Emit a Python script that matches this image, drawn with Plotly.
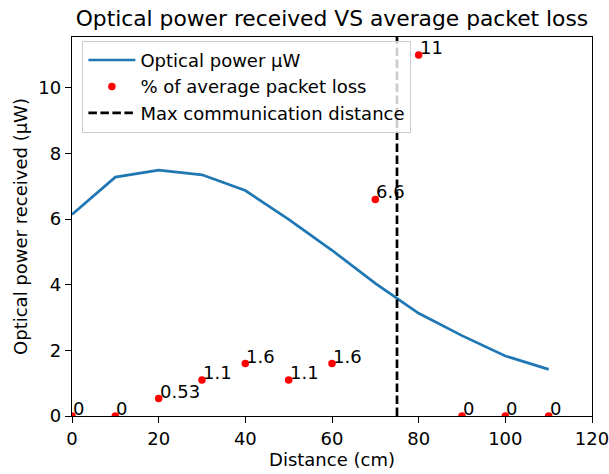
import plotly.graph_objects as go

distance = [0, 10, 20, 30, 40, 50, 60, 70, 80, 90, 100, 110]
optical_power = [6.14, 7.28, 7.49, 7.35, 6.87, 5.99, 5.05, 4.04, 3.13, 2.45, 1.83, 1.42]
packet_loss = [0, 0, 0.53, 1.1, 1.6, 1.1, 1.6, 6.6, 11, 0, 0, 0]
loss_labels = ["0", "0", "0.53", "1.1", "1.6", "1.1", "1.6", "6.6", "11", "0", "0", "0"]
max_distance = 75
x_ticks = [0, 20, 40, 60, 80, 100, 120]
y_ticks = [0, 2, 4, 6, 8, 10]

FONT = "DejaVu Sans"
FS = 18

fig = go.Figure()
fig.add_trace(go.Scatter(
    x=distance, y=optical_power, mode="lines", name="Optical power μW",
    line=dict(color="#1f77b4", width=2.7), legendgroup="a", legendrank=1,
))
fig.add_trace(go.Scatter(
    x=distance, y=packet_loss, mode="markers", name="% of average packet loss",
    marker=dict(color="red", size=7.5), legendgroup="b", legendrank=2,
))
fig.add_shape(
    type="line", x0=max_distance, x1=max_distance, y0=0, y1=1, yref="paper", xref="x",
    line=dict(color="black", width=2.7, dash="8.5px,3.5px"),
    showlegend=True, name="Max communication distance", legendgroup="c", legendrank=3,
)

for xv, yv, lab in zip(distance, packet_loss, loss_labels):
    fig.add_annotation(
        x=xv, y=yv, text=lab, showarrow=False, xanchor="left", yanchor="bottom",
        xshift=-1, yshift=-5, font=dict(family=FONT, size=FS, color="black"),
    )

axis_common = dict(
    showline=True, linecolor="black", linewidth=1.3, mirror=True,
    ticks="outside", ticklen=6, tickwidth=1.3, tickcolor="black",
    showgrid=False, zeroline=False, ticklabeloverflow="allow",
    tickfont=dict(family=FONT, size=FS, color="black"),
)

fig.update_layout(
    width=609, height=474,
    margin=dict(l=72, r=17, t=37, b=58, autoexpand=False),
    plot_bgcolor="white", paper_bgcolor="white",
    font=dict(family=FONT, size=FS, color="black"),
    title=dict(text="Optical power received VS average packet loss",
               x=0.545, xanchor="center", y=0.962, yanchor="middle",
               font=dict(family=FONT, size=21.8, color="black")),
    xaxis=dict(range=[0, 120], tickvals=x_ticks,
               title=dict(text="Distance (cm)", font=dict(family=FONT, size=FS), standoff=2),
               automargin=False, **axis_common),
    yaxis=dict(range=[0, 11.55], tickvals=y_ticks,
               title=dict(text="Optical power received (μW)", font=dict(family=FONT, size=FS), standoff=6),
               automargin=False, **axis_common),
    legend=dict(x=0.02, y=0.99, xanchor="left", yanchor="top",
                bgcolor="rgba(255,255,255,0.8)", bordercolor="#cccccc", borderwidth=1,
                font=dict(family=FONT, size=FS, color="black"),
                traceorder="grouped", tracegroupgap=0, itemwidth=47),
)

fig.write_html("out.html", post_script="document.body.style.margin='0';",
               config={"displayModeBar": False})
